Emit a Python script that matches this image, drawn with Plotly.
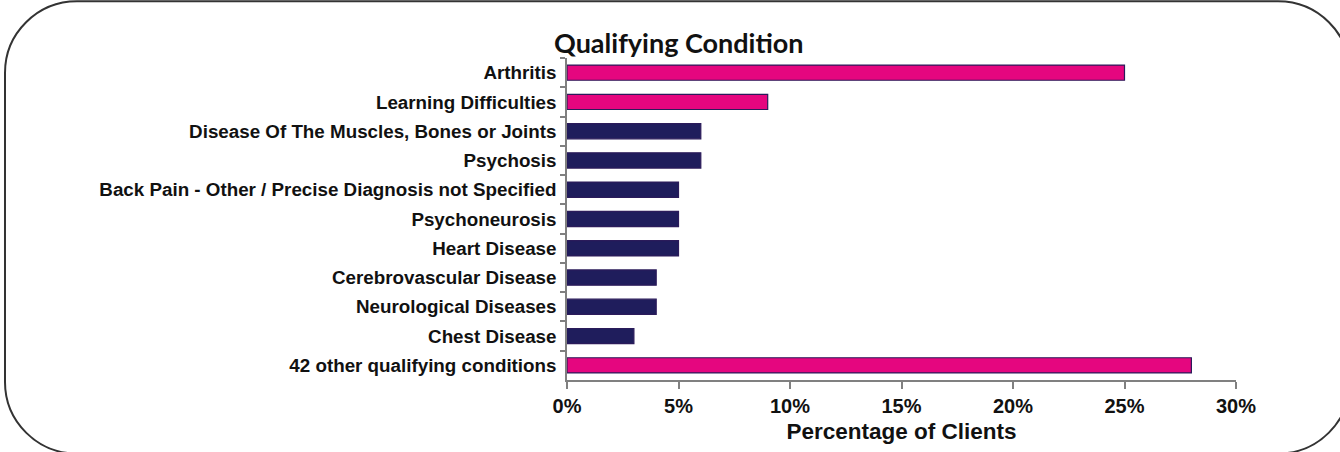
import plotly.graph_objects as go

categories = [
    "Arthritis",
    "Learning Difficulties",
    "Disease Of The Muscles, Bones or Joints",
    "Psychosis",
    "Back Pain - Other / Precise Diagnosis not Specified",
    "Psychoneurosis",
    "Heart Disease",
    "Cerebrovascular Disease",
    "Neurological Diseases",
    "Chest Disease",
    "42 other qualifying conditions",
]
values = [25, 9, 6, 6, 5, 5, 5, 4, 4, 3, 28]
highlight = [True, True, False, False, False, False, False, False, False, False, True]
x_ticks = [0, 5, 10, 15, 20, 25, 30]
x_tick_labels = ["0%", "5%", "10%", "15%", "20%", "25%", "30%"]

PINK = "#E5067F"
NAVY = "#1F1D5C"

W, H = 1340, 452
L, R, T, B = 567, 104, 58, 70
PW, PH = W - L - R, H - T - B

def px(x):
    return (x - L) / PW

def py(y):
    return 1 - (y - T) / PH

fig = go.Figure(
    go.Bar(
        x=values,
        y=categories,
        orientation="h",
        marker=dict(
            color=[PINK if h else NAVY for h in highlight],
            line=dict(color="#2B1B5A", width=1.2),
        ),
        hoverinfo="skip",
    )
)

# rounded frame around the whole chart (pixel coords -> paper)
x0, x1, y0, y1, r = 5, 1350, 1, 456, 72
k = 0.5523 * r
path = (
    f"M {px(x0 + r)},{py(y0)} L {px(x1 - r)},{py(y0)} "
    f"C {px(x1 - r + k)},{py(y0)} {px(x1)},{py(y0 + r - k)} {px(x1)},{py(y0 + r)} "
    f"L {px(x1)},{py(y1 - r)} "
    f"C {px(x1)},{py(y1 - r + k)} {px(x1 - r + k)},{py(y1)} {px(x1 - r)},{py(y1)} "
    f"L {px(x0 + r)},{py(y1)} "
    f"C {px(x0 + r - k)},{py(y1)} {px(x0)},{py(y1 - r + k)} {px(x0)},{py(y1 - r)} "
    f"L {px(x0)},{py(y0 + r)} "
    f"C {px(x0)},{py(y0 + r - k)} {px(x0 + r - k)},{py(y0)} {px(x0 + r)},{py(y0)} Z"
)
fig.add_shape(type="path", path=path, xref="paper", yref="paper",
              line=dict(color="#333333", width=2), layer="above")

fig.add_annotation(
    text="<b>Qualifying Condition</b>", xref="paper", yref="paper",
    x=px(679), y=py(42), xanchor="center", yanchor="middle", showarrow=False,
    font=dict(family="Lato", size=27, color="#111111"),
)

fig.update_layout(
    width=W, height=H,
    margin=dict(l=L, r=R, t=T, b=B, pad=0),
    paper_bgcolor="white", plot_bgcolor="white",
    bargap=0.48,
    showlegend=False,
    font=dict(family="Liberation Sans", color="#111111"),
    xaxis=dict(
        range=[0, 30], tickvals=x_ticks, ticktext=x_tick_labels,
        showgrid=False, zeroline=False,
        showline=True, linecolor="#808080", linewidth=1.5,
        ticks="outside", ticklen=7, tickcolor="#808080", tickwidth=1.5,
        tickfont=dict(family="Liberation Sans", size=20, weight="bold", color="#111111"),
        title=dict(text="<b>Percentage of Clients</b>", standoff=7,
                   font=dict(family="Liberation Sans", size=22.5, color="#111111")),
    ),
    yaxis=dict(
        categoryorder="array", categoryarray=categories, autorange="reversed",
        showgrid=False, zeroline=False,
        showline=True, linecolor="#808080", linewidth=1.5,
        ticks="outside", ticklen=5, tickcolor="#808080", tickwidth=1.5,
        tickson="boundaries", ticklabelstandoff=5,
        tickfont=dict(family="Liberation Sans", size=18.8, weight="bold", color="#111111"),
    ),
)

fig.write_html("out.html", config={"displayModeBar": False},
               post_script="document.body.style.margin='0';")
